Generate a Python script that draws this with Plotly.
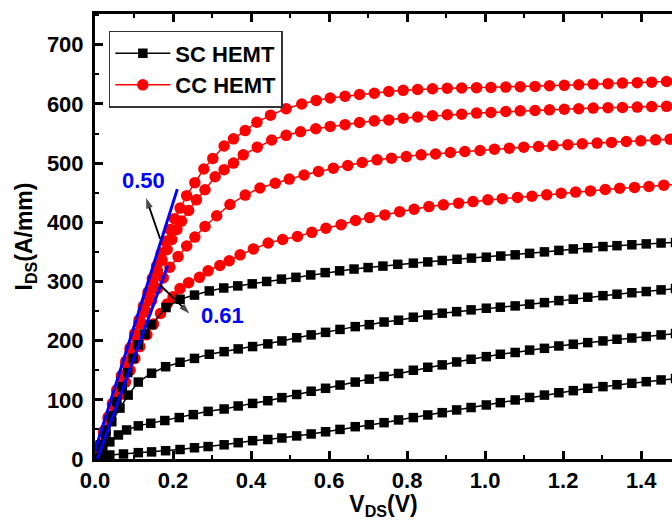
import plotly.graph_objects as go

# ---------------- data ----------------
# SC HEMT (black squares), four gate biases, top to bottom
sc1_x = [0, 0.014, 0.028, 0.042, 0.056, 0.07, 0.084, 0.098, 0.111, 0.128, 0.145, 0.182, 0.218, 0.255, 0.293,
         0.33, 0.366, 0.403, 0.44, 0.478, 0.515, 0.553, 0.59, 0.627, 0.664, 0.7, 0.738, 0.776, 0.816, 0.853,
         0.89, 0.928, 0.965, 1.003, 1.04, 1.077, 1.114, 1.152, 1.189, 1.226, 1.263, 1.302, 1.338, 1.376,
         1.413, 1.451, 1.488]
sc1_y = [0, 24, 49, 73, 97, 122, 146, 170, 193, 211, 227, 256, 270, 277, 284,
         289, 292.5, 296, 300, 304, 307, 311, 315, 318, 321, 323.5, 326, 329, 331, 333,
         335.5, 337.5, 339.5, 341, 343, 345, 347.5, 350, 352.5, 355, 357, 359, 360.5, 362,
         363.5, 365, 366]

sc2_x = [0, 0.014, 0.028, 0.043, 0.064, 0.085, 0.111, 0.145, 0.181, 0.218, 0.255, 0.293, 0.331, 0.367,
         0.404, 0.443, 0.479, 0.517, 0.554, 0.591, 0.628, 0.667, 0.703, 0.741, 0.778, 0.816, 0.853, 0.89,
         0.927, 0.964, 1.003, 1.039, 1.077, 1.114, 1.152, 1.189, 1.226, 1.263, 1.302, 1.338, 1.376,
         1.413, 1.451, 1.488]
sc2_y = [0, 20, 40.6, 63, 86, 108, 130, 145, 156, 163.5, 170, 177, 181.4, 186,
         190, 194.5, 199.5, 205, 209.7, 214, 219, 223.7, 227, 231.5, 234.5, 239.6, 243.5, 246.4,
         249, 252, 254.8, 256.5, 258.7, 261.6, 264.3, 267.7, 270, 273.4, 276, 278.5, 281,
         283, 285.8, 288]

sc3_x = [0, 0.02, 0.038, 0.06, 0.081, 0.111, 0.143, 0.179, 0.216, 0.252, 0.29, 0.331, 0.367, 0.404,
         0.443, 0.479, 0.517, 0.554, 0.591, 0.628, 0.667, 0.703, 0.741, 0.778, 0.816, 0.853, 0.89,
         0.927, 0.964, 1.003, 1.039, 1.077, 1.114, 1.152, 1.189, 1.226, 1.263, 1.302, 1.338, 1.376,
         1.413, 1.451, 1.488]
sc3_y = [0, 15, 29, 40.6, 49, 56, 60.4, 65, 70, 75, 80.5, 84.5, 89.6, 94,
         98.5, 103.7, 109, 114.5, 119.5, 125, 130, 135, 139.5, 144.5, 150, 155, 159,
         164, 168.6, 173, 177, 180, 184, 187, 191, 194, 196.7, 199.5, 202.4, 204.5,
         207, 209.7, 212]

sc4_x = [0, 0.018, 0.038, 0.073, 0.111, 0.145, 0.181, 0.218, 0.255, 0.29, 0.331, 0.367, 0.404, 0.443,
         0.479, 0.517, 0.554, 0.591, 0.628, 0.667, 0.703, 0.741, 0.778, 0.816, 0.853, 0.89, 0.927,
         0.964, 1.003, 1.039, 1.077, 1.114, 1.152, 1.189, 1.226, 1.263, 1.302, 1.338, 1.376, 1.413,
         1.451, 1.488]
sc4_y = [0, 4, 6.8, 8.5, 10.7, 12, 14, 16, 19, 21, 24, 27.6, 31, 33,
         35.5, 39, 42.3, 46, 50, 54.6, 58, 61.4, 66, 70, 74.4, 78.3, 82.9,
         87, 91.3, 95.2, 99.8, 104, 108, 112, 115.5, 119.5, 122.3, 125.5, 128, 130.7,
         133.6, 136]

# CC HEMT (red circles), four gate biases, top to bottom
cc1_x = [0, 0.011, 0.022, 0.034, 0.045, 0.056, 0.068, 0.079, 0.09, 0.102, 0.113, 0.124, 0.136, 0.147,
         0.158, 0.17, 0.181, 0.192, 0.204, 0.218, 0.235, 0.256, 0.279, 0.302, 0.331, 0.355, 0.385,
         0.415, 0.45, 0.49, 0.53, 0.567, 0.603, 0.641, 0.678, 0.716, 0.753, 0.79, 0.827, 0.865, 0.903,
         0.94, 0.978, 1.015, 1.053, 1.09, 1.128, 1.165, 1.203, 1.24, 1.277, 1.315, 1.352, 1.39,
         1.427, 1.465, 1.502]
cc1_y = [0, 23, 46, 71, 94, 117, 141, 165, 188, 212, 235, 258, 282, 305,
         326, 348, 368, 388, 406, 424, 445, 467, 490, 508, 529, 541, 555,
         569, 581, 592, 600, 606, 610, 613, 616, 618, 621, 623, 624.5, 625.6, 626.5,
         627, 627.5, 628, 628.5, 629, 629.6, 630.7, 631.5, 632.5, 633.5, 634.3, 635.3, 636,
         636.8, 638, 639]

cc2_x = [0, 0.011, 0.022, 0.034, 0.045, 0.056, 0.068, 0.079, 0.09, 0.102, 0.113, 0.124, 0.136, 0.148,
         0.16, 0.172, 0.185, 0.197, 0.21, 0.222, 0.24, 0.26, 0.282, 0.308, 0.331, 0.355, 0.38, 0.416,
         0.453, 0.49, 0.527, 0.566, 0.603, 0.641, 0.678, 0.716, 0.753, 0.79, 0.827, 0.865, 0.903, 0.94,
         0.978, 1.015, 1.053, 1.09, 1.128, 1.165, 1.203, 1.24, 1.277, 1.315, 1.352, 1.39, 1.427,
         1.465, 1.502]
cc2_y = [0, 22, 45, 69, 92, 114, 138, 161, 184, 207, 230, 252, 276, 298,
         318, 336, 354, 371, 388, 402, 420, 438, 455, 477, 489, 500, 514, 527,
         539, 547, 553, 558, 562, 565, 568.7, 571.5, 573, 576, 578, 580, 581.7, 582.8,
         584.5, 585.6, 587.3, 588.4, 589, 590, 591, 591.8, 593, 593.5, 594, 594.7, 595.5,
         596, 597]

cc3_x = [0, 0.012, 0.024, 0.036, 0.048, 0.06, 0.072, 0.084, 0.096, 0.108, 0.12, 0.132, 0.145, 0.16,
         0.175, 0.192, 0.213, 0.235, 0.256, 0.282, 0.312, 0.346, 0.385, 0.423, 0.462, 0.498, 0.536,
         0.573, 0.611, 0.648, 0.685, 0.723, 0.76, 0.798, 0.836, 0.873, 0.911, 0.948, 0.987, 1.024,
         1.062, 1.099, 1.137, 1.174, 1.212, 1.249, 1.287, 1.324, 1.362, 1.399, 1.437, 1.474]
cc3_y = [0, 24, 48, 72, 95, 118, 141, 164, 186, 208, 229, 249, 268, 288,
         306, 324, 342, 360, 375, 393, 411, 430, 446, 458, 466, 473, 480,
         486, 491.5, 496, 501, 505.6, 508.4, 511, 514, 515.5, 518, 519.6, 521.3, 523.6,
         525.3, 527, 528, 529.8, 531, 532.6, 533.8, 535, 536.5, 537.7, 539.4, 540.5]

cc4_x = [0, 0.013, 0.026, 0.039, 0.052, 0.065, 0.078, 0.09, 0.102, 0.115, 0.133, 0.15, 0.168, 0.185,
         0.2, 0.218, 0.24, 0.268, 0.29, 0.32, 0.344, 0.372, 0.406, 0.444, 0.481, 0.519, 0.556, 0.592,
         0.631, 0.668, 0.704, 0.743, 0.781, 0.818, 0.856, 0.893, 0.932, 0.969, 1.007, 1.044, 1.083,
         1.12, 1.158, 1.195, 1.232, 1.27, 1.308, 1.345, 1.383, 1.42, 1.458, 1.495]
cc4_y = [0, 23, 45, 67, 88, 109, 130, 150, 170, 190, 210, 228, 246, 262,
         274, 288, 298, 307, 318, 327, 335, 345, 355, 365, 371, 376, 383, 390,
         396, 403, 408, 412.5, 418, 422, 426.6, 429.5, 432.3, 435, 438, 440, 442,
         444, 446.4, 449, 451, 453, 455.5, 457.5, 459, 460.5, 462.8, 464]

# on-resistance fit lines (blue)
fit050_x = [-0.004, 0.211]
fit050_y = [6, 456]
fit061_x = [0.006, 0.186]
fit061_y = [0, 326]

# annotation labels and arrows (tail -> head)
label_text = ["0.50", "0.61"]
label_x = [0.125, 0.327]
label_y = [470, 242]
arrow050_x = [0.167, 0.131]
arrow050_y = [372, 441]
arrow061_x = [0.167, 0.242]
arrow061_y = [294, 246]

x_ticks = [0.0, 0.2, 0.4, 0.6, 0.8, 1.0, 1.2, 1.4]
y_ticks = [0, 100, 200, 300, 400, 500, 600, 700]

FONT = "Liberation Sans, Arial, sans-serif"

fig = go.Figure()

cc_sets = [(cc1_x, cc1_y), (cc2_x, cc2_y), (cc3_x, cc3_y), (cc4_x, cc4_y)]
for i, (xs, ys) in enumerate(cc_sets):
    fig.add_trace(go.Scatter(
        x=xs, y=ys, mode="lines+markers", name="CC HEMT",
        showlegend=(i == 0), legendrank=2,
        line=dict(color="#ff0000", width=1.5),
        marker=dict(symbol="circle", size=11.5, color="#ff0000", line=dict(width=0)),
    ))

sc_sets = [(sc1_x, sc1_y), (sc2_x, sc2_y), (sc3_x, sc3_y), (sc4_x, sc4_y)]
for i, (xs, ys) in enumerate(sc_sets):
    fig.add_trace(go.Scatter(
        x=xs, y=ys, mode="lines+markers", name="SC HEMT",
        showlegend=(i == 0), legendrank=1,
        line=dict(color="#000000", width=1.5),
        marker=dict(symbol="square", size=9.5, color="#000000", line=dict(width=0)),
    ))

for fx, fy in [(fit050_x, fit050_y), (fit061_x, fit061_y)]:
    fig.add_trace(go.Scatter(x=fx, y=fy, mode="lines", showlegend=False, hoverinfo="skip",
                             line=dict(color="#0000ff", width=3)))

for ax_, ay_ in [(arrow050_x, arrow050_y), (arrow061_x, arrow061_y)]:
    fig.add_trace(go.Scatter(
        x=ax_, y=ay_, mode="lines+markers", showlegend=False, hoverinfo="skip",
        line=dict(color="black", width=1.8),
        marker=dict(symbol="arrow", size=[0, 11], color="black", angleref="previous",
                    line=dict(width=0)),
    ))

for t, lx, ly in zip(label_text, label_x, label_y):
    fig.add_annotation(x=lx, y=ly, xref="x", yref="y", text=t, showarrow=False,
                       font=dict(family=FONT, size=22, color="#0000ff", weight="bold"))

axis_common = dict(
    showline=True, linecolor="black", linewidth=3,
    ticks="inside", ticklen=8, tickwidth=2.5, tickcolor="black",
    showgrid=False, zeroline=False,
    tickfont=dict(family=FONT, size=22, color="black", weight="bold"),
)

fig.update_xaxes(range=[0, 1.479], tickvals=x_ticks, ticktext=[f"{v:.1f}" for v in x_ticks],
                 mirror="ticks",
                 minor=dict(ticks="inside", ticklen=4, tickwidth=2, tickcolor="black", dtick=0.1),
                 ticklabelstandoff=0,
                 title=dict(text="V<sub>DS</sub>(V)", standoff=4,
                            font=dict(family=FONT, size=23, color="black", weight="bold")),
                 **axis_common)
fig.update_yaxes(range=[0, 752], tickvals=y_ticks,
                 minor=dict(ticks="inside", ticklen=4, tickwidth=2, tickcolor="black", dtick=50),
                 ticklabelstandoff=4,
                 title=dict(text="I<sub>DS</sub>(A/mm)", standoff=8,
                            font=dict(family=FONT, size=23, color="black", weight="bold")),
                 **axis_common)

fig.update_layout(
    width=672, height=520,
    margin=dict(l=95, r=0, t=14, b=61, pad=0),
    plot_bgcolor="white", paper_bgcolor="white",
    legend=dict(x=0.024, y=0.962, xanchor="left", yanchor="top",
                bgcolor="white", bordercolor="#333333", borderwidth=1.5,
                font=dict(family=FONT, size=22, color="black", weight="bold"),
                tracegroupgap=0, itemwidth=55, itemsizing="trace"),
    showlegend=True,
)

fig.write_html("out.html")
